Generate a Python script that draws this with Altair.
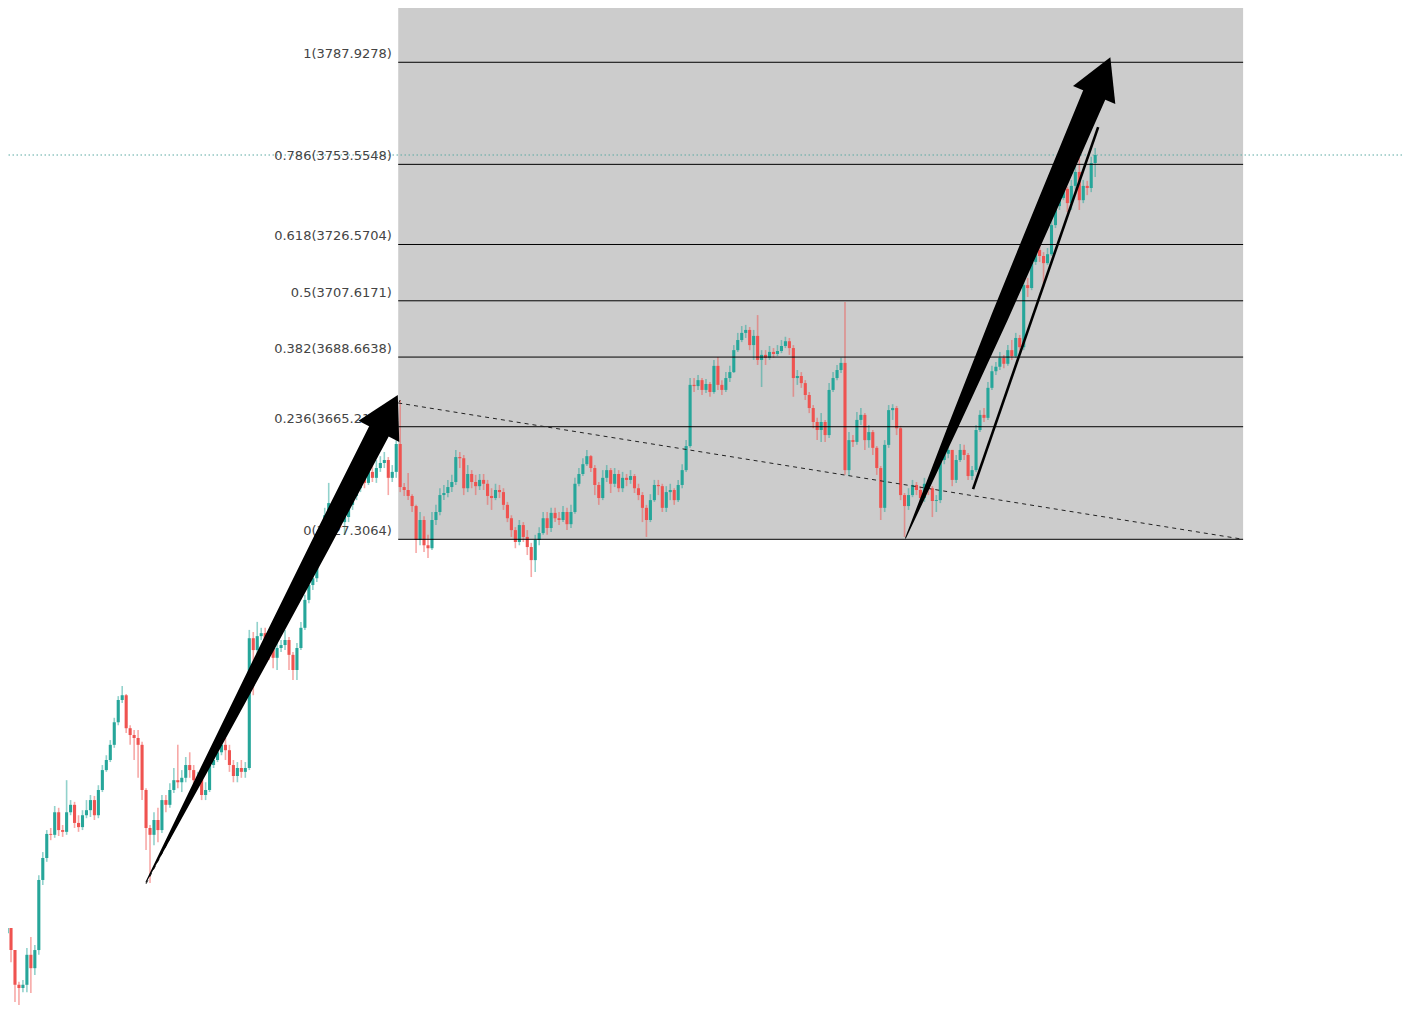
import math
import altair as alt
import pandas as pd

# ---------------- data ----------------
FIRST_OPEN = 3494.7
CLOSES = [
    3496.4, 3489.0, 3477.3, 3476.2, 3477.3, 3487.4, 3482.9, 3489.0, 3512.6, 3520.0,
    3528.1, 3527.8, 3535.4, 3529.4, 3528.8, 3535.4, 3537.9, 3531.8, 3530.4, 3534.4,
    3536.1, 3539.5, 3534.4, 3542.9, 3549.6, 3553.0, 3558.1, 3565.7, 3573.2, 3574.8,
    3563.7, 3561.4, 3560.4, 3558.1, 3542.9, 3530.1, 3527.8, 3532.8, 3529.4, 3539.5,
    3537.9, 3542.9, 3546.2, 3545.5, 3547.0, 3551.3, 3549.6, 3546.2, 3547.0, 3541.2,
    3542.9, 3551.3, 3553.0, 3555.6, 3558.1, 3556.3, 3551.3, 3547.6, 3550.3, 3549.0,
    3550.3, 3594.0, 3590.0, 3594.7, 3595.7, 3593.4, 3590.7, 3587.4, 3590.7, 3591.7,
    3593.4, 3588.4, 3583.3, 3590.7, 3597.5, 3606.9, 3611.9, 3614.2, 3620.3, 3623.7,
    3635.4, 3639.5, 3634.4, 3636.5, 3633.1, 3634.8, 3638.9, 3641.9, 3644.5, 3648.0,
    3646.3, 3650.0, 3648.0, 3651.3, 3653.0, 3654.0, 3648.0, 3650.0, 3659.4, 3644.9,
    3643.9, 3641.9, 3638.5, 3627.1, 3633.8, 3625.3, 3624.3, 3633.8, 3636.5, 3642.2,
    3642.9, 3644.9, 3646.6, 3655.0, 3654.6, 3644.5, 3649.3, 3646.6, 3645.2, 3647.3,
    3646.0, 3641.9, 3641.2, 3643.9, 3643.2, 3638.9, 3634.4, 3630.4, 3626.4, 3632.1,
    3628.1, 3624.7, 3620.3, 3627.1, 3629.4, 3634.4, 3631.1, 3636.2, 3634.4, 3633.8,
    3636.5, 3632.4, 3636.5, 3646.0, 3649.3, 3652.6, 3655.3, 3651.3, 3645.6, 3641.2,
    3648.0, 3650.6, 3646.0, 3649.3, 3644.5, 3648.0, 3647.3, 3648.6, 3644.5, 3642.2,
    3637.9, 3633.8, 3640.5, 3645.6, 3645.2, 3637.9, 3643.2, 3643.9, 3640.5, 3645.6,
    3650.6, 3658.7, 3679.3, 3678.9, 3680.9, 3677.6, 3679.6, 3676.9, 3685.7, 3679.3,
    3677.6, 3681.6, 3683.6, 3691.0, 3694.4, 3696.8, 3697.8, 3692.7, 3695.8, 3687.7,
    3689.4, 3688.4, 3690.4, 3689.7, 3690.7, 3692.4, 3694.0, 3691.7, 3681.6, 3682.3,
    3679.9, 3675.9, 3671.5, 3666.8, 3664.1, 3666.8, 3662.4, 3677.6, 3681.6, 3684.3,
    3686.7, 3650.6, 3660.7, 3660.1, 3667.5, 3669.2, 3660.7, 3663.4, 3658.1, 3651.3,
    3637.9, 3659.1, 3670.8, 3671.5, 3664.7, 3642.2, 3638.5, 3642.2, 3645.6, 3643.9,
    3641.2, 3646.0, 3644.5, 3640.2, 3640.5, 3654.0, 3656.1, 3657.4, 3647.3, 3654.0,
    3657.4, 3655.7, 3648.6, 3650.6, 3664.1, 3669.2, 3668.2, 3678.3, 3683.9, 3685.4,
    3688.4, 3686.4, 3691.0, 3689.0, 3695.1, 3692.0, 3712.9, 3711.9, 3720.7, 3724.7,
    3722.7, 3720.3, 3723.3, 3733.1, 3739.5, 3742.2, 3745.3, 3740.5, 3746.3, 3751.0,
    3741.5, 3746.3, 3745.6, 3754.0, 3756.7,
]
HIGHS = [
    3498.1, 3496.4, 3489.0, 3478.3, 3478.9, 3489.7, 3493.4, 3490.7, 3514.2, 3522.0,
    3529.4, 3530.1, 3537.5, 3536.9, 3531.1, 3546.2, 3539.5, 3538.9, 3534.4, 3536.1,
    3539.5, 3541.2, 3540.9, 3544.5, 3551.3, 3554.6, 3559.7, 3567.2, 3574.5, 3577.9,
    3575.2, 3564.7, 3563.1, 3563.1, 3559.1, 3543.5, 3531.1, 3535.4, 3536.9, 3541.2,
    3541.2, 3545.2, 3550.3, 3558.1, 3549.6, 3554.0, 3555.6, 3551.3, 3549.0, 3548.0,
    3545.5, 3553.0, 3554.6, 3557.1, 3560.7, 3560.4, 3558.1, 3553.0, 3552.3, 3553.0,
    3552.3, 3596.8, 3596.1, 3599.5, 3597.5, 3597.5, 3595.0, 3591.7, 3593.4, 3593.4,
    3596.8, 3594.4, 3589.4, 3592.4, 3599.5, 3608.6, 3614.2, 3616.3, 3622.0, 3625.3,
    3637.9, 3646.3, 3640.5, 3638.9, 3637.9, 3640.5, 3641.2, 3643.9, 3646.6, 3650.6,
    3651.6, 3652.0, 3653.3, 3654.0, 3655.3, 3656.7, 3655.0, 3652.3, 3660.7, 3674.2,
    3646.3, 3649.6, 3642.5, 3638.9, 3636.5, 3635.1, 3628.8, 3636.5, 3638.9, 3644.5,
    3645.6, 3647.3, 3649.0, 3657.4, 3656.7, 3655.7, 3652.3, 3650.6, 3649.0, 3649.3,
    3649.3, 3647.3, 3644.5, 3646.0, 3645.6, 3644.5, 3639.9, 3635.4, 3631.4, 3633.8,
    3633.1, 3630.4, 3626.1, 3628.8, 3631.4, 3636.5, 3636.5, 3637.9, 3637.9, 3636.5,
    3638.5, 3637.9, 3638.9, 3648.0, 3651.3, 3654.6, 3657.4, 3655.7, 3652.3, 3646.6,
    3650.6, 3652.3, 3651.3, 3651.3, 3650.6, 3650.0, 3649.3, 3650.6, 3649.3, 3646.0,
    3643.2, 3638.9, 3642.5, 3647.3, 3647.3, 3646.0, 3645.2, 3646.0, 3644.5, 3647.3,
    3652.6, 3660.7, 3681.6, 3681.6, 3682.6, 3681.6, 3681.3, 3680.3, 3687.7, 3688.7,
    3680.9, 3683.6, 3685.7, 3692.7, 3696.8, 3699.1, 3699.5, 3698.8, 3697.8, 3702.8,
    3691.0, 3691.0, 3692.4, 3691.7, 3692.7, 3694.4, 3695.5, 3695.1, 3692.7, 3684.3,
    3683.6, 3680.9, 3676.9, 3672.5, 3668.2, 3669.8, 3667.5, 3679.9, 3683.6, 3686.0,
    3688.4, 3707.2, 3663.4, 3662.4, 3670.2, 3671.5, 3669.8, 3665.8, 3664.1, 3658.7,
    3652.0, 3660.7, 3672.5, 3672.8, 3672.2, 3665.5, 3642.9, 3644.5, 3647.3, 3646.6,
    3645.2, 3648.0, 3647.3, 3645.2, 3642.2, 3655.7, 3658.1, 3659.4, 3657.4, 3655.7,
    3659.4, 3659.1, 3656.4, 3652.0, 3665.8, 3670.8, 3671.5, 3680.3, 3685.7, 3687.0,
    3690.4, 3689.4, 3692.7, 3694.4, 3696.8, 3696.1, 3714.6, 3715.3, 3722.7, 3726.8,
    3726.4, 3724.0, 3725.4, 3734.9, 3741.5, 3743.9, 3747.0, 3746.0, 3748.3, 3753.0,
    3755.7, 3748.3, 3748.0, 3756.1, 3759.1,
]
LOWS = [
    3493.0, 3484.9, 3471.5, 3469.8, 3474.8, 3474.8, 3474.5, 3480.6, 3487.4, 3510.9,
    3518.7, 3526.0, 3526.8, 3527.4, 3527.1, 3527.8, 3534.4, 3530.1, 3528.8, 3529.4,
    3533.4, 3533.8, 3532.8, 3533.4, 3542.2, 3549.0, 3552.3, 3557.1, 3564.7, 3572.2,
    3562.1, 3558.1, 3553.0, 3547.0, 3539.5, 3522.7, 3511.6, 3524.3, 3525.3, 3528.4,
    3535.4, 3536.9, 3541.9, 3543.5, 3542.2, 3545.5, 3547.0, 3542.9, 3544.5, 3539.5,
    3539.5, 3542.2, 3550.3, 3552.3, 3554.6, 3553.0, 3549.0, 3545.5, 3545.5, 3547.0,
    3547.0, 3549.6, 3574.8, 3588.4, 3593.4, 3590.0, 3586.7, 3583.9, 3583.3, 3589.4,
    3590.0, 3583.3, 3579.9, 3579.9, 3590.0, 3596.8, 3605.8, 3610.2, 3612.9, 3619.7,
    3622.7, 3634.4, 3632.1, 3632.1, 3631.1, 3628.8, 3633.1, 3637.2, 3640.5, 3643.2,
    3644.5, 3645.6, 3646.6, 3646.3, 3650.0, 3651.3, 3642.2, 3646.6, 3648.0, 3643.2,
    3641.9, 3640.5, 3636.5, 3622.7, 3625.3, 3623.0, 3621.0, 3623.7, 3632.1, 3635.4,
    3640.5, 3641.5, 3643.2, 3645.6, 3651.3, 3642.2, 3643.2, 3644.5, 3642.2, 3643.9,
    3643.9, 3638.9, 3637.2, 3640.5, 3641.2, 3637.2, 3633.1, 3628.1, 3624.3, 3625.3,
    3626.4, 3622.0, 3614.6, 3616.3, 3625.3, 3628.8, 3628.8, 3629.8, 3633.1, 3632.1,
    3633.1, 3630.4, 3631.1, 3635.9, 3645.2, 3648.6, 3652.0, 3650.0, 3642.2, 3638.9,
    3640.5, 3646.6, 3642.9, 3644.9, 3643.2, 3643.2, 3645.2, 3646.0, 3642.9, 3640.5,
    3633.1, 3628.1, 3633.1, 3639.9, 3642.2, 3636.5, 3636.5, 3640.5, 3638.9, 3639.9,
    3644.5, 3650.0, 3658.1, 3676.9, 3677.6, 3675.9, 3676.6, 3675.3, 3676.3, 3677.6,
    3675.9, 3676.9, 3680.3, 3683.3, 3690.4, 3693.7, 3695.1, 3691.0, 3687.7, 3686.0,
    3678.6, 3686.0, 3687.7, 3688.4, 3689.0, 3690.0, 3691.7, 3689.4, 3675.3, 3679.3,
    3678.3, 3674.2, 3669.8, 3664.7, 3660.7, 3660.1, 3660.1, 3661.4, 3676.9, 3680.9,
    3683.3, 3649.0, 3648.6, 3658.4, 3659.1, 3665.8, 3657.4, 3658.1, 3655.7, 3649.0,
    3633.8, 3636.5, 3658.1, 3667.5, 3662.4, 3640.5, 3628.1, 3637.2, 3641.5, 3642.2,
    3638.9, 3639.9, 3642.2, 3634.8, 3636.5, 3639.5, 3652.6, 3654.6, 3645.2, 3646.3,
    3653.3, 3654.0, 3647.3, 3647.3, 3650.0, 3663.4, 3666.8, 3667.5, 3677.6, 3682.6,
    3684.3, 3684.9, 3685.7, 3687.7, 3688.4, 3690.4, 3691.0, 3708.9, 3711.2, 3719.7,
    3720.7, 3712.2, 3719.7, 3722.7, 3732.1, 3738.2, 3741.5, 3737.5, 3738.2, 3745.0,
    3738.2, 3740.5, 3743.2, 3744.2, 3749.3,
]

FIB_LOW = 3627.3064
FIB_HIGH = 3787.9278
FIB_RATIOS = [0, 0.236, 0.382, 0.5, 0.618, 0.786, 1]
FIB_BAR_START = 98.5
FIB_BAR_END = 311.25
FIB_LABEL_BAR = 96.9
FIB_DIAG = [(98.5, 3673.2), (311.25, 3627.3064)]
CURRENT_PRICE = 3756.7

ARROW1 = ((35.0, 3511.9), (98.375, 3675.9))
ARROW2 = ((226.25, 3627.7), (277.8, 3789.6))
TREND = [(243.25, 3644.2), (274.75, 3766.1)]
TAIL_DASH = [(35.0, 3511.3), (99.0, 3674.2)]

# ---------------- style / layout ----------------
W, H = 1394, 997
X_DOM = [1.5, 350.0]
Y_DOM = [3470.5, 3806.2]
UP, DOWN = "#26a69a", "#ef5350"
HEAD_LEN, HEAD_W = 41.0, 46.0
ARROW_FRACS = [0, 0.25, 0.5, 0.75, 1.0]
ARROW1_WIDTHS = [1, 8, 14, 19, 22]
ARROW2_WIDTHS = [1, 10, 17, 21, 24]

xs = alt.Scale(domain=X_DOM, nice=False, zero=False)
ys = alt.Scale(domain=Y_DOM, nice=False, zero=False)


def X(f):
    return alt.X(f, type="quantitative", scale=xs, axis=None)


def Y(f):
    return alt.Y(f, type="quantitative", scale=ys, axis=None)


# candles
n = len(CLOSES)
opens = [FIRST_OPEN] + CLOSES[:-1]
cdf = pd.DataFrame({"bar": list(range(n)), "open": opens, "close": CLOSES,
                    "high": HIGHS, "low": LOWS})
cdf["dir"] = ["up" if c >= o else "down" for o, c in zip(opens, CLOSES)]
color = alt.Color("dir:N", scale=alt.Scale(domain=["up", "down"], range=[UP, DOWN]), legend=None)

wicks = alt.Chart(cdf).mark_rule(strokeWidth=1.6, opacity=0.5).encode(
    x=X("bar"), y=Y("low"), y2="high", color=color)
bodies = alt.Chart(cdf).mark_bar(size=3.1).encode(
    x=X("bar"), y=Y("open"), y2="close", color=color)

# fib
levels = pd.DataFrame({"ratio": FIB_RATIOS})
levels["price"] = FIB_LOW + levels["ratio"] * (FIB_HIGH - FIB_LOW)
levels["label"] = [f"{r:g}({p:.4f})" for r, p in zip(levels["ratio"], levels["price"])]
levels["x0"] = FIB_BAR_START
levels["x1"] = FIB_BAR_END
levels["lx"] = FIB_LABEL_BAR

rect_df = pd.DataFrame({"x0": [FIB_BAR_START], "x1": [FIB_BAR_END],
                        "top": [Y_DOM[1]], "bottom": [FIB_LOW]})
gray = alt.Chart(rect_df).mark_rect(color="#cccccc").encode(
    x=X("x0"), x2="x1", y=Y("top"), y2="bottom")

level_rules = alt.Chart(levels).mark_rule(color="black", strokeWidth=1).encode(
    x=X("x0"), x2="x1", y=Y("price"))

labels = alt.Chart(levels).mark_text(
    align="right", baseline="alphabetic", dy=-4, font="DejaVu Sans",
    fontSize=13, color="#444444").encode(x=X("lx"), y=Y("price"), text="label:N")

cur_df = pd.DataFrame({"price": [CURRENT_PRICE]})
cur_line = alt.Chart(cur_df).mark_rule(color="#5aa9a2", strokeDash=[1.5, 2.5], strokeWidth=1).encode(
    y=Y("price"))

dash_df = pd.DataFrame(
    [{"id": "fib", "k": k, "bar": b, "price": p} for k, (b, p) in enumerate(FIB_DIAG)]
    + [{"id": "tail", "k": k, "bar": b, "price": p} for k, (b, p) in enumerate(TAIL_DASH)])
dashed = alt.Chart(dash_df).mark_line(color="#222222", strokeDash=[4, 4], strokeWidth=1).encode(
    x=X("bar"), y=Y("price"), detail="id:N", order="k:Q")

trend_df = pd.DataFrame([{"k": k, "bar": b, "price": p} for k, (b, p) in enumerate(TREND)])
trend = alt.Chart(trend_df).mark_line(color="black", strokeWidth=2.6).encode(
    x=X("bar"), y=Y("price"), order="k:Q")

# arrows
PXB = W / (X_DOM[1] - X_DOM[0])
PXP = H / (Y_DOM[1] - Y_DOM[0])

trail_rows, head_rows = [], []
for name, (tail, tip), widths in [("a1", ARROW1, ARROW1_WIDTHS), ("a2", ARROW2, ARROW2_WIDTHS)]:
    x0, y0 = tail[0] * PXB, -tail[1] * PXP
    x1, y1 = tip[0] * PXB, -tip[1] * PXP
    dx, dy = x1 - x0, y1 - y0
    L = math.hypot(dx, dy)
    ux, uy = dx / L, dy / L
    bx, by = x1 - ux * HEAD_LEN, y1 - uy * HEAD_LEN
    for k, (f, w) in enumerate(zip(ARROW_FRACS, widths)):
        px, py = x0 + (bx - x0) * f, y0 + (by - y0) * f
        trail_rows.append({"arrow": name, "k": k, "bar": px / PXB, "price": -py / PXP, "w": w})
    cx, cy = x1 - ux * HEAD_LEN / 2, y1 - uy * HEAD_LEN / 2
    head_rows.append({"arrow": name, "bar": cx / PXB, "price": -cy / PXP,
                      "angle": math.degrees(math.atan2(ux, -uy)) % 360})

trail_df = pd.DataFrame(trail_rows)
head_df = pd.DataFrame(head_rows)
hw = HEAD_W / HEAD_LEN
head_path = f"M0,-1L{hw:.4f},1L{-hw:.4f},1Z"

bodies_arrow = alt.Chart(trail_df).mark_trail(color="black").encode(
    x=X("bar"), y=Y("price"), size=alt.Size("w:Q", scale=None, legend=None),
    detail="arrow:N", order="k:Q")
heads = alt.Chart(head_df).mark_point(
    shape=head_path, filled=True, color="black", opacity=1, strokeWidth=0,
    size=HEAD_LEN * HEAD_LEN).encode(
    x=X("bar"), y=Y("price"), angle=alt.Angle("angle:Q", scale=None))

chart = alt.layer(
    gray, cur_line, wicks, bodies, level_rules, dashed, labels, trend, bodies_arrow, heads
).properties(
    width=W, height=H, padding=0, autosize="none", background="white"
).configure_view(stroke=None)

chart.save("out.html", embed_options={"renderer": "svg", "actions": False})
